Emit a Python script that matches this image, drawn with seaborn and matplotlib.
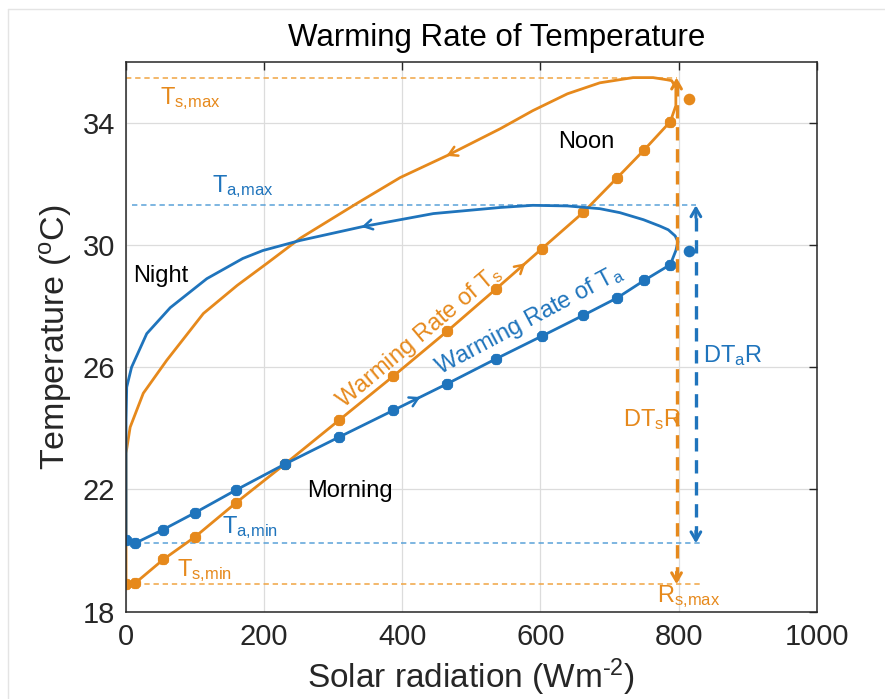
import numpy as np
import matplotlib
matplotlib.use("Agg")
import matplotlib.pyplot as plt
from matplotlib.lines import Line2D
import seaborn as sns

# ---- data -------------------------------------------------------------
# Warming branch (morning -> noon), sampled at common time steps
rad_rise = [0, 13, 54, 100, 159, 230, 308, 387, 465, 536, 602, 662, 711, 750, 788]
ts_rise = [18.90, 18.93, 19.71, 20.45, 21.56, 22.83, 24.26, 25.71, 27.18,
           28.57, 29.88, 31.07, 32.20, 33.11, 34.04]
ta_rise = [20.34, 20.24, 20.69, 21.24, 21.98, 22.83, 23.71, 24.59, 25.46,
           26.28, 27.02, 27.70, 28.27, 28.84, 29.36]

# Isolated noon sample
rad_noon = [815]
ts_noon = [34.79]
ta_noon = [29.82]

# Afternoon / night branch of surface temperature
rad_fall_s = [788, 796, 796, 790, 783, 763, 734, 686, 639, 589, 542, 465, 397,
              334, 252, 204, 161, 112, 59, 25, 6, 0, 0, 0]
ts_fall = [34.04, 34.56, 35.15, 35.38, 35.41, 35.48, 35.48, 35.31, 34.95, 34.40,
           33.81, 32.93, 32.21, 31.36, 30.22, 29.40, 28.68, 27.76, 26.23, 25.15,
           24.04, 23.19, 22.63, 18.90]

# Afternoon / night branch of air temperature
rad_fall_a = [788, 796, 799, 795, 785, 773, 749, 715, 686, 639, 589, 542, 445,
              342, 252, 198, 169, 117, 64, 30, 8, 1, 0, 0]
ta_fall = [29.36, 29.82, 30.11, 30.30, 30.50, 30.62, 30.83, 31.06, 31.19, 31.28,
           31.30, 31.23, 31.03, 30.60, 30.15, 29.82, 29.56, 28.90, 27.95, 27.10,
           26.00, 25.35, 24.26, 20.34]

rs_max = 797          # peak solar radiation
xticks = [0, 200, 400, 600, 800, 1000]
yticks = [18, 22, 26, 30, 34]

# ---- style ------------------------------------------------------------
ORANGE = "#E6891C"
ORANGE_L = "#F0A443"
BLUE = "#1F74BC"
BLUE_L = "#5AA2D8"
DARK = "#262626"

sns.set_style("white")
plt.rcParams["font.family"] = ["Liberation Sans", "DejaVu Sans"]
plt.rcParams["mathtext.fontset"] = "custom"
plt.rcParams["mathtext.rm"] = "Liberation Sans"
plt.rcParams["mathtext.it"] = "Liberation Sans:italic"
plt.rcParams["mathtext.bf"] = "Liberation Sans:bold"

fig = plt.figure(figsize=(8.85, 6.99), dpi=100)
ax = fig.add_axes([0.1424, 0.1249, 0.7805, 0.7868])

# faint outer frame
fig.add_artist(Line2D([8 / 885, 1], [1 - 9 / 699] * 2, color="#E4E4E4", lw=1,
                      transform=fig.transFigure))
fig.add_artist(Line2D([8 / 885] * 2, [0, 1 - 9 / 699], color="#E4E4E4", lw=1,
                      transform=fig.transFigure))

ax.set_xlim(0, 1000)
ax.set_ylim(18, 36)
ax.set_xticks(xticks)
ax.set_yticks(yticks)
ax.grid(True, color="#DCDCDC", lw=0.9)
ax.set_axisbelow(True)
for s in ax.spines.values():
    s.set_color(DARK)
    s.set_linewidth(1.1)
ax.tick_params(direction="in", top=True, right=True, length=6, width=1,
               labelsize=21, colors=DARK, pad=8)

ts_max = max(ts_rise + ts_fall)
ts_min = min(ts_rise + ts_fall)
ta_max = max(ta_rise + ta_fall)
ta_min = min(ta_rise + ta_fall)
dta_x = 825
line_end = 831

# reference levels
thin = dict(lw=1.1, ls=(0, (3.5, 2.5)))
ax.plot([0, rs_max], [ts_max] * 2, color=ORANGE_L, **thin)
ax.plot([0, line_end], [ts_min] * 2, color=ORANGE_L, **thin)
ax.plot([8, dta_x], [ta_max] * 2, color=BLUE_L, **thin)
ax.plot([0, line_end], [ta_min] * 2, color=BLUE_L, **thin)

# curves
mk = dict(marker=(8, 2, 0), markersize=8, markeredgewidth=2.6)
sns.lineplot(x=rad_fall_s, y=ts_fall, sort=False, estimator=None,
             color=ORANGE, lw=2.0, ax=ax)
sns.lineplot(x=rad_rise, y=ts_rise, sort=False, estimator=None, color=ORANGE,
             lw=2.0, markeredgecolor=ORANGE, ax=ax, **mk)
sns.lineplot(x=rad_fall_a, y=ta_fall, sort=False, estimator=None,
             color=BLUE, lw=2.0, ax=ax)
sns.lineplot(x=rad_rise, y=ta_rise, sort=False, estimator=None, color=BLUE,
             lw=2.0, markeredgecolor=BLUE, ax=ax, **mk)
sns.scatterplot(x=rad_noon, y=ts_noon, color=ORANGE, s=70, linewidth=0, ax=ax)
sns.scatterplot(x=rad_noon, y=ta_noon, color=BLUE, s=70, linewidth=0, ax=ax)

head = "->,head_length=0.6,head_width=0.35"


def curve_arrow(xs, ys, at, color):
    xs = np.asarray(xs, float)
    ys = np.asarray(ys, float)
    for i in range(len(xs) - 1):
        a, b = xs[i], xs[i + 1]
        if a != b and min(a, b) <= at <= max(a, b):
            t = (at - a) / (b - a)
            y = ys[i] + t * (ys[i + 1] - ys[i])
            dx, dy = b - a, ys[i + 1] - ys[i]
            ax.annotate("", xy=(at, y), xytext=(at - 0.05 * dx, y - 0.05 * dy),
                        arrowprops=dict(arrowstyle=head, color=color, lw=1.8,
                                        shrinkA=0, shrinkB=0))
            return


curve_arrow(rad_rise, ts_rise, 578, ORANGE)
curve_arrow(rad_rise, ta_rise, 426, BLUE)
curve_arrow(rad_fall_s, ts_fall, 464, ORANGE)
curve_arrow(rad_fall_a, ta_fall, 341, BLUE)

# range arrows
thick = dict(lw=2.4, ls=(0, (4, 2.6)))
ax.plot([rs_max] * 2, [ts_min + 0.15, ts_max - 0.15], color=ORANGE, **thick)
ax.plot([dta_x] * 2, [ta_min + 0.15, ta_max - 0.15], color=BLUE, **thick)
for x, lo, hi, c in [(rs_max, ts_min, ts_max, ORANGE), (dta_x, ta_min, ta_max, BLUE)]:
    ax.annotate("", xy=(x, hi), xytext=(x, hi - 0.4),
                arrowprops=dict(arrowstyle=head, color=c, lw=2.2, shrinkA=0, shrinkB=0))
    ax.annotate("", xy=(x, lo), xytext=(x, lo + 0.4),
                arrowprops=dict(arrowstyle=head, color=c, lw=2.2, shrinkA=0, shrinkB=0))

# labels
fs = 17
ax.text(49, 34.61, r"T$_{\mathrm{s{,}max}}$", color=ORANGE, fontsize=fs)
ax.text(124, 31.73, r"T$_{\mathrm{a{,}max}}$", color=BLUE, fontsize=fs)
ax.text(138.5, 20.56, r"T$_{\mathrm{a{,}min}}$", color=BLUE, fontsize=fs)
ax.text(74, 19.17, r"T$_{\mathrm{s{,}min}}$", color=ORANGE, fontsize=fs)
ax.text(769, 18.33, r"R$_{\mathrm{s{,}max}}$", color=ORANGE, fontsize=fs)
ax.text(836, 26.17, r"DT$_{\mathrm{a}}$R", color=BLUE, fontsize=fs)
ax.text(720, 24.07, r"DT$_{\mathrm{s}}$R", color=ORANGE, fontsize=fs)
ax.text(10, 28.78, "Night", color="black", fontsize=fs)
ax.text(626, 33.18, "Noon", color="black", fontsize=fs)
ax.text(262, 21.74, "Morning", color="black", fontsize=fs)
ax.text(424, 27.0, r"Warming Rate of T$_{\mathrm{s}}$", color=ORANGE, fontsize=fs,
        rotation=40, ha="center", va="center", rotation_mode="anchor")
ax.text(584, 27.55, r"Warming Rate of T$_{\mathrm{a}}$", color=BLUE, fontsize=fs,
        rotation=28, ha="center", va="center", rotation_mode="anchor")

ax.set_xlabel(r"Solar radiation (Wm$^{\text{-2}}$)", fontsize=24, color=DARK, labelpad=4)
ax.set_ylabel(r"Temperature ($^{\mathrm{o}}$C)", fontsize=24.5, color=DARK, labelpad=6)
fig.text(0.561, 0.946, "Warming Rate of Temperature", fontsize=22.5, color="black",
         ha="center", va="center")

fig.savefig("out.png", dpi=100)
